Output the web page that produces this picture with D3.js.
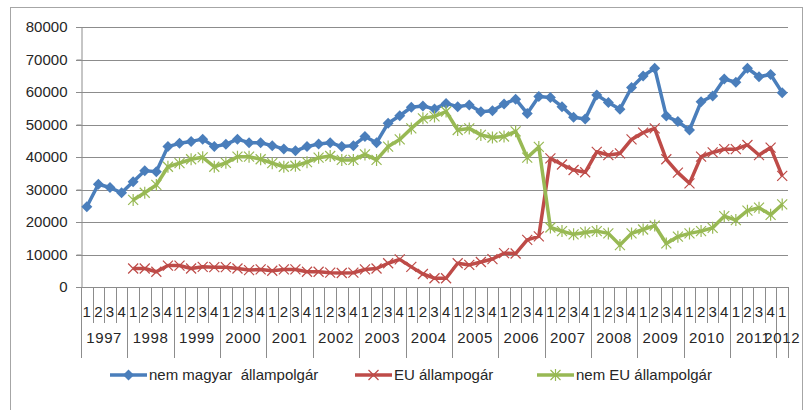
<!DOCTYPE html>
<html>
<head>
<meta charset="utf-8">
<script src="https://cdn.jsdelivr.net/npm/d3@7"></script>
<style>
  body { margin: 0; background: #fff; }
  text { font-family: "Liberation Sans", Arial, sans-serif; fill: #262626; }
</style>
</head>
<body>
<script>
// years and quarters for the two level category axis
var years = ["1997","1998","1999","2000","2001","2002","2003","2004",
             "2005","2006","2007","2008","2009","2010","2011","2012"];
var quarters = ["1","2","3","4"];
var yTicks = [0,10000,20000,30000,40000,50000,60000,70000,80000];

var nemMagyar = [24700,31600,30600,29000, 32400,35800,35500,43200,
                 44200,44800,45500,43200, 43900,45500,44400,44400,
                 43500,42500,41900,43200, 44000,44400,43200,43500,
                 46300,44400,50400,52700, 55300,55700,54800,56500,
                 55500,56000,53900,54200, 56300,57800,53400,58600,
                 58300,55500,52200,51700, 59100,56800,54700,61400,
                 64900,67300,52600,50900, 48300,57000,58800,64000,
                 63000,67300,64700,65400, 59800];

var eu = [null,null,null,null, 5700,5700,4700,6600,
          6600,5700,6200,6100, 6100,5700,5200,5400,
          5000,5400,5400,4700, 4700,4400,4300,4400,
          5400,5700,7300,8500, 6200,4000,2700,2700,
          7300,6800,7700,8600, 10400,10300,14500,15600,
          39600,37700,36000,35300, 41600,40600,41100,45400,
          47500,48800,39300,35200, 31900,40100,41400,42400,
          42400,43700,40600,42900, 34200];

var nemEu = [null,null,null,null, 26800,29000,31400,37000,
             38100,39300,39900,37000, 38200,40100,40100,39300,
             38100,37000,37300,38400, 39800,40300,39100,39100,
             40800,39100,43200,45400, 48800,51900,52500,54000,
             48300,48800,46800,46000, 46300,47900,39800,43100,
             18300,17200,16200,16800, 17200,16500,12900,16500,
             17700,18900,13400,15500, 16500,17200,18200,21800,
             20600,23500,24400,22200, 25400];

var seriesNames = ["nem magyar  állampolgár", "EU állampogár", "nem EU állampolgár"];
var colors = ["#4a7ebb", "#be4b48", "#98b954"];

// build category list: every quarter of each year, last year only Q1
var categories = [];
years.forEach(function(y, yi) {
    var qs = yi == years.length - 1 ? quarters.slice(0, 1) : quarters;
    qs.forEach(function(q) { categories.push({year: y, q: q}); });
});

var width = 805;
var height = 410;

var svg = d3.select("body").append("svg")
    .attr("width", width)
    .attr("height", height);

// outer chart frame
svg.append("rect")
    .attr("x", 10.5).attr("y", 7.5)
    .attr("width", 792).attr("height", 430)
    .attr("fill", "none")
    .attr("stroke", "#a6a6a6");

var x = d3.scaleBand()
    .domain(d3.range(categories.length))
    .range([81, 788])
    .padding(0);

var y = d3.scaleLinear()
    .domain([0, 80000])
    .range([287, 27]);

var cx = function(i) { return x(i) + x.bandwidth() / 2; };

// gridlines
svg.append("g")
    .selectAll("line")
    .data(yTicks)
    .enter()
    .append("line")
    .attr("x1", 76).attr("x2", 788)
    .attr("y1", d => Math.round(y(d)) + 0.5)
    .attr("y2", d => Math.round(y(d)) + 0.5)
    .attr("stroke", "#8c8c8c");

// y axis
var yAxis = svg.append("g")
    .attr("transform", "translate(81.5,0)")
    .call(d3.axisLeft(y).tickValues(yTicks).tickSize(5).tickPadding(9)
          .tickFormat(d3.format("d")));
yAxis.selectAll("line").attr("stroke", "#8c8c8c");
yAxis.select(".domain").attr("stroke", "#8c8c8c");
yAxis.selectAll("text").style("font-size", "15px").attr("fill", "#262626")
    .attr("font-family", "Liberation Sans, Arial, sans-serif");

// category axis: separators between quarters, long ones between years
var cat = svg.append("g");
var bounds = d3.range(categories.length + 1);
cat.selectAll("line.sep")
    .data(bounds)
    .enter()
    .append("line")
    .attr("x1", i => Math.round(i < categories.length ? x(i) : x.range()[1]) + 0.5)
    .attr("x2", i => Math.round(i < categories.length ? x(i) : x.range()[1]) + 0.5)
    .attr("y1", 287)
    .attr("y2", function(i) {
        var isYear = i == 0 || i == categories.length || categories[i].q == "1";
        return isYear ? 358 : 323;
    })
    .attr("stroke", "#8c8c8c");

cat.selectAll("text.q")
    .data(categories)
    .enter()
    .append("text")
    .attr("x", (d, i) => cx(i))
    .attr("y", 317)
    .attr("text-anchor", "middle")
    .style("font-size", "15px")
    .text(d => d.q);

cat.selectAll("text.yr")
    .data(years)
    .enter()
    .append("text")
    .attr("x", function(d) {
        var idx = categories.map((c, i) => c.year == d ? i : -1).filter(i => i >= 0);
        return (x(idx[0]) + x(idx[idx.length - 1]) + x.bandwidth()) / 2;
    })
    .attr("y", 343)
    .attr("text-anchor", "middle")
    .style("font-size", "15px")
    .style("letter-spacing", "0.6px")
    .text(d => d);

svg.append("line")
    .attr("x1", 81).attr("x2", 788)
    .attr("y1", 287.5).attr("y2", 287.5)
    .attr("stroke", "#8c8c8c");

// markers
function drawMarker(g, type, color) {
    if (type == 0) {
        g.append("path").attr("d", "M0,-5.5L5.5,0L0,5.5L-5.5,0Z").attr("fill", color);
    } else if (type == 1) {
        g.append("path").attr("d", "M-5,-5L5,5M-5,5L5,-5")
            .attr("stroke", color).attr("stroke-width", 1.2).attr("fill", "none");
    } else {
        g.append("path").attr("d", "M-5,-5L5,5M-5,5L5,-5M0,-6L0,6")
            .attr("stroke", color).attr("stroke-width", 1.2).attr("fill", "none");
    }
}

var allSeries = [nemMagyar, eu, nemEu];
var line = d3.line()
    .defined(d => d != null)
    .x((d, i) => cx(i))
    .y(d => y(d));

allSeries.forEach(function(s, si) {
    svg.append("path")
        .datum(s)
        .attr("d", line)
        .attr("fill", "none")
        .attr("stroke", colors[si])
        .attr("stroke-width", 3.5)
        .attr("stroke-linejoin", "round");
});

allSeries.forEach(function(s, si) {
    s.forEach(function(v, i) {
        if (v == null) return;
        var g = svg.append("g").attr("transform", "translate(" + cx(i) + "," + y(v) + ")");
        drawMarker(g, si, colors[si]);
    });
});

// legend
var legendX = [110, 355, 537];
var legend = svg.append("g");
seriesNames.forEach(function(name, si) {
    var lx = legendX[si];
    legend.append("line")
        .attr("x1", lx).attr("x2", lx + 37)
        .attr("y1", 375).attr("y2", 375)
        .attr("stroke", colors[si]).attr("stroke-width", 3.5);
    drawMarker(legend.append("g").attr("transform", "translate(" + (lx + 18.5) + ",375)"), si, colors[si]);
    legend.append("text")
        .attr("x", lx + 39)
        .attr("y", 380)
        .style("font-size", "15px")
        .style("white-space", "pre")
        .text(name);
});
</script>
</body>
</html>
